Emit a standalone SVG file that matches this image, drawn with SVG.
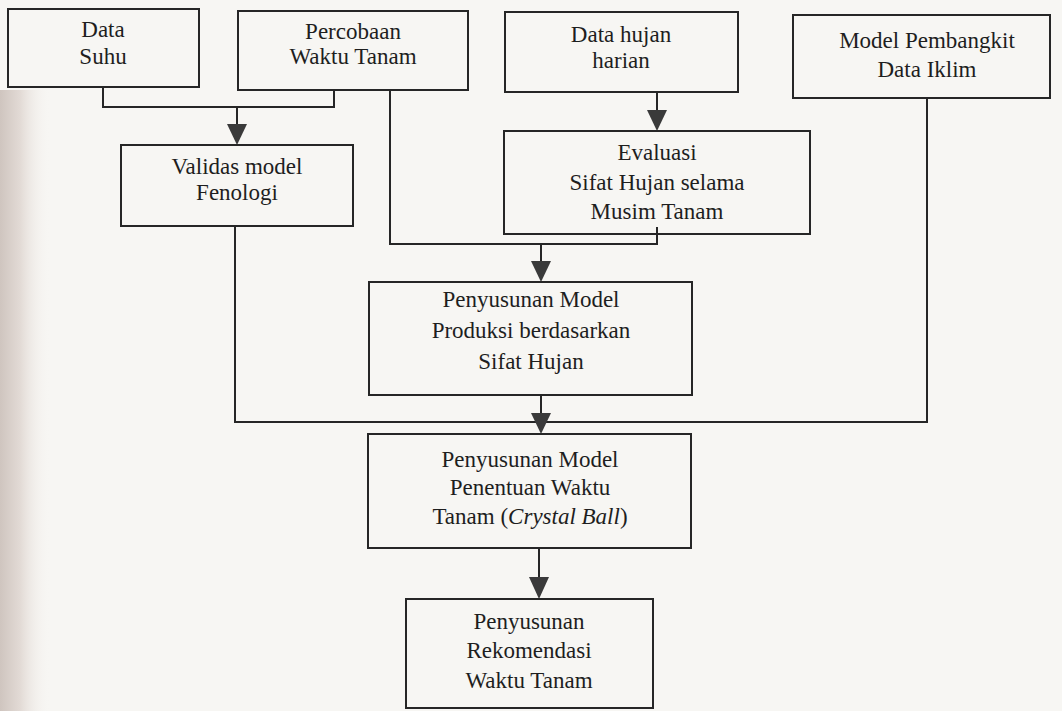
<svg xmlns="http://www.w3.org/2000/svg" width="1062" height="711" viewBox="0 0 1062 711">
  <defs>
    <linearGradient id="edge" x1="0" y1="0" x2="1" y2="0">
      <stop offset="0" stop-color="#cfc5bf"/>
      <stop offset="0.4" stop-color="#e2dad5"/>
      <stop offset="1" stop-color="#f7f5f2" stop-opacity="0"/>
    </linearGradient>
    <style>
      .box{fill:none;stroke:#262626;stroke-width:2}
      .ln{fill:none;stroke:#262626;stroke-width:2}
      .ah{fill:#3a3a3a}
      text{font-family:"Liberation Serif","Times New Roman",serif;font-size:23px;fill:#1e1e1e;text-anchor:middle}
    </style>
  </defs>
  <rect x="0" y="0" width="1062" height="711" fill="#f7f6f3"/>
  <rect x="0" y="90" width="50" height="621" fill="url(#edge)"/>

  <g id="connectors">
    <polyline class="ln" points="103,87 103,107 334,107 334,90"/>
    <line class="ln" x1="237" y1="107" x2="237" y2="126"/>
    <path class="ah" d="M227,124 L247,124 L237,145 Z"/>
    <polyline class="ln" points="390,90 390,244 657,244 657,227"/>
    <line class="ln" x1="541" y1="244" x2="541" y2="264"/>
    <path class="ah" d="M531,261 L551,261 L541,282 Z"/>
    <line class="ln" x1="657" y1="92" x2="657" y2="112"/>
    <path class="ah" d="M647,110 L667,110 L657,131 Z"/>
    <polyline class="ln" points="235,226 235,422 927,422 927,98"/>
    <line class="ln" x1="541" y1="395" x2="541" y2="414"/>
    <path class="ah" d="M531,413 L551,413 L541,434 Z"/>
    <line class="ln" x1="539" y1="548" x2="539" y2="579"/>
    <path class="ah" d="M529,577 L549,577 L539,599 Z"/>
  </g>

  <g id="data-suhu">
    <rect class="box" x="8" y="9" width="191" height="78"/>
    <text x="103" y="37">Data</text>
    <text x="103" y="64">Suhu</text>
  </g>
  <g id="percobaan">
    <rect class="box" x="238" y="11" width="230" height="79"/>
    <text x="353" y="39">Percobaan</text>
    <text x="353" y="64">Waktu Tanam</text>
  </g>
  <g id="data-hujan">
    <rect class="box" x="505" y="12" width="233" height="80"/>
    <text x="621" y="42">Data hujan</text>
    <text x="621" y="68">harian</text>
  </g>
  <g id="model-pembangkit">
    <rect class="box" x="793" y="15" width="257" height="83"/>
    <text x="927" y="48">Model Pembangkit</text>
    <text x="927" y="77">Data Iklim</text>
  </g>
  <g id="validas">
    <rect class="box" x="121" y="145" width="232" height="81"/>
    <text x="237" y="174">Validas model</text>
    <text x="237" y="200">Fenologi</text>
  </g>
  <g id="evaluasi">
    <rect class="box" x="504" y="131" width="306" height="103"/>
    <text x="657" y="160">Evaluasi</text>
    <text x="657" y="190">Sifat Hujan selama</text>
    <text x="657" y="219">Musim Tanam</text>
  </g>
  <g id="produksi">
    <rect class="box" x="369" y="282" width="323" height="113"/>
    <text x="531" y="307">Penyusunan Model</text>
    <text x="531" y="338">Produksi berdasarkan</text>
    <text x="531" y="369">Sifat Hujan</text>
  </g>
  <g id="crystal-ball">
    <rect class="box" x="368" y="434" width="323" height="114"/>
    <text x="530" y="467">Penyusunan Model</text>
    <text x="530" y="495">Penentuan Waktu</text>
    <text x="530" y="524">Tanam (<tspan font-style="italic">Crystal Ball</tspan>)</text>
  </g>
  <g id="rekomendasi">
    <rect class="box" x="406" y="599" width="247" height="109"/>
    <text x="529" y="629">Penyusunan</text>
    <text x="529" y="658">Rekomendasi</text>
    <text x="529" y="688">Waktu Tanam</text>
  </g>
</svg>
